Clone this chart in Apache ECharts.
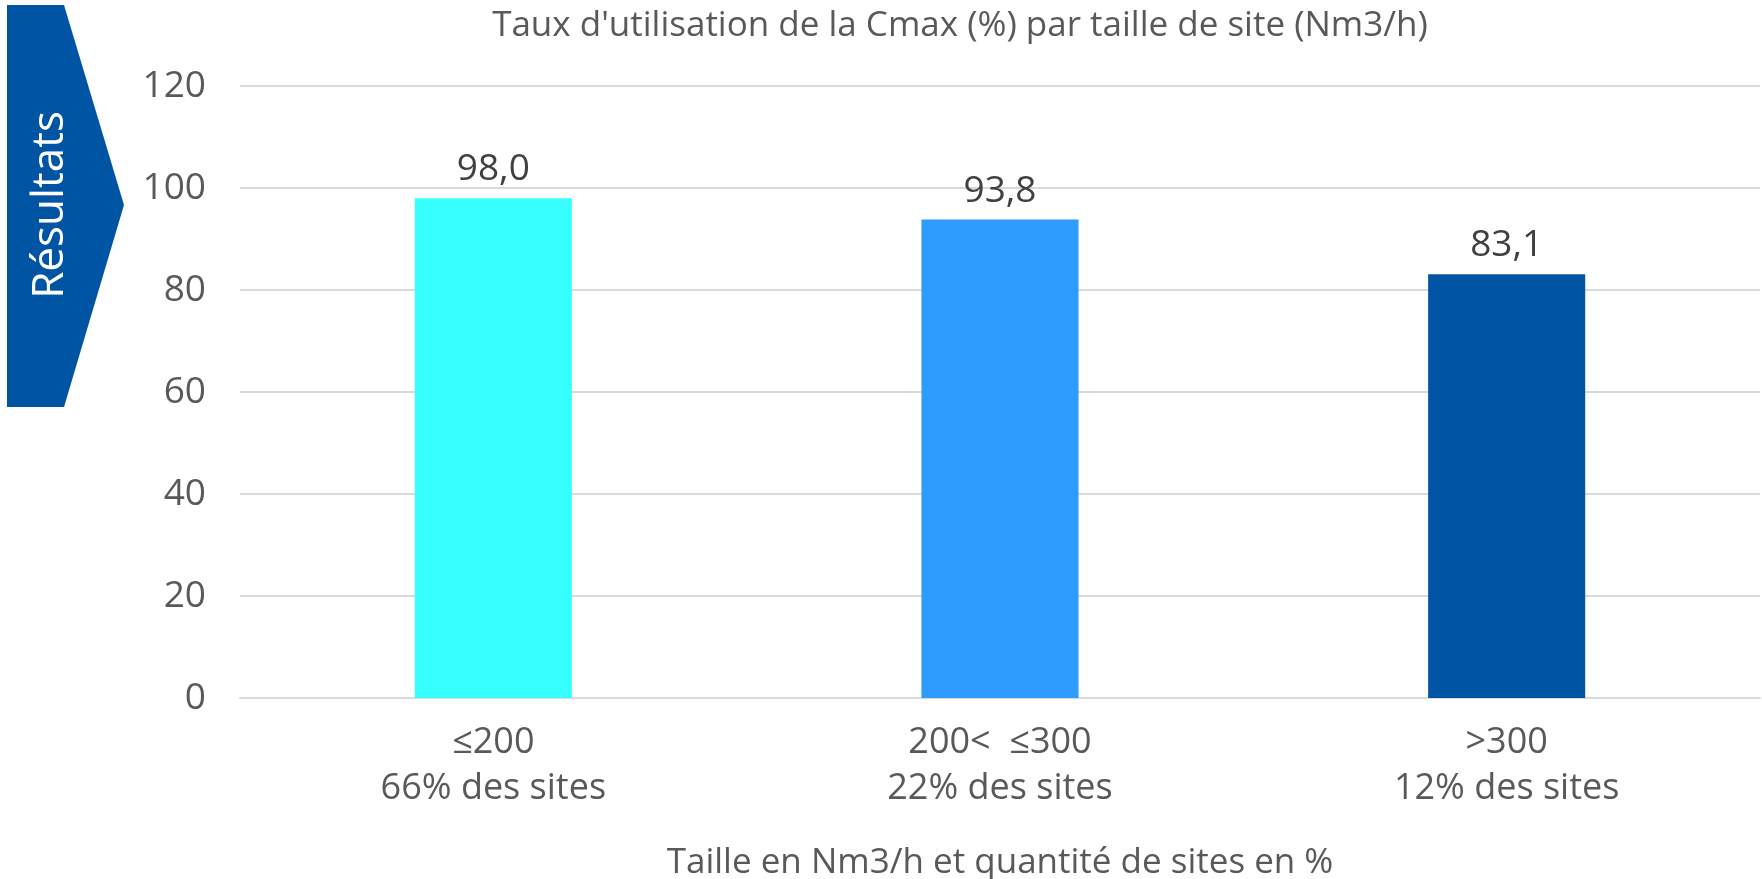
<!DOCTYPE html>
<html>
<head>
<meta charset="utf-8">
<script src="https://cdn.jsdelivr.net/npm/echarts@6/dist/echarts.min.js"></script>
<style>
  html, body { margin: 0; padding: 0; background: #fff; }
  #chart { width: 1762px; height: 879px; }
</style>
</head>
<body>
<div id="chart"></div>
<script>
const categories = ['≤200\n66% des sites', '200<  ≤300\n22% des sites', '>300\n12% des sites'];
const values = [98.0, 93.8, 83.1];
const barColors = ['#36FFFF', '#2E9BFF', '#0054A4'];

const chart = echarts.init(document.getElementById('chart'));
const font = '"Open Sans", "Noto Sans", sans-serif';

const option = {
  animation: false,
  title: {
    text: "Taux d'utilisation de la Cmax (%) par taille de site (Nm3/h)",
    left: 955,
    textAlign: 'center',
    top: 4,
    textStyle: { fontFamily: font, fontSize: 35, fontWeight: 'normal', color: '#595959' }
  },
  graphic: [
    {
      type: 'polygon',
      shape: { points: [[7, 5], [64, 5], [124, 205], [64, 407], [7, 407]] },
      style: { fill: '#0054A4' }
    },
    {
      type: 'text',
      x: 50,
      y: 205,
      rotation: Math.PI / 2,
      style: {
        text: 'Résultats',
        fill: '#fff',
        font: '44px "Open Sans", sans-serif',
        align: 'center',
        verticalAlign: 'middle'
      }
    }
  ],
  grid: { left: 240, right: 2, top: 86, bottom: 181, outerBoundsMode: 'none' },
  xAxis: {
    type: 'category',
    data: categories,
    axisTick: { show: false },
    axisLine: { lineStyle: { color: '#D9D9D9', width: 2 } },
    axisLabel: { fontFamily: font, fontSize: 36, color: '#595959', margin: 22, lineHeight: 46 },
    name: 'Taille en Nm3/h et quantité de sites en %',
    nameLocation: 'middle',
    nameGap: 148,
    nameTextStyle: { fontFamily: font, fontSize: 35, color: '#595959' }
  },
  yAxis: {
    type: 'value',
    min: 0,
    max: 120,
    interval: 20,
    axisLine: { show: false },
    axisTick: { show: false },
    splitLine: { lineStyle: { color: '#D9D9D9', width: 2 } },
    axisLabel: { fontFamily: font, fontSize: 37, color: '#595959', margin: 34 }
  },
  series: [{
    type: 'bar',
    barWidth: '31%',
    data: values.map((v, i) => ({ value: v, itemStyle: { color: barColors[i] } })),
    label: {
      show: true,
      position: 'top',
      distance: 10,
      fontFamily: font,
      fontSize: 37,
      color: '#404040',
      formatter: p => p.value.toFixed(1).replace('.', ',')
    }
  }]
};

chart.setOption(option);
</script>
</body>
</html>
